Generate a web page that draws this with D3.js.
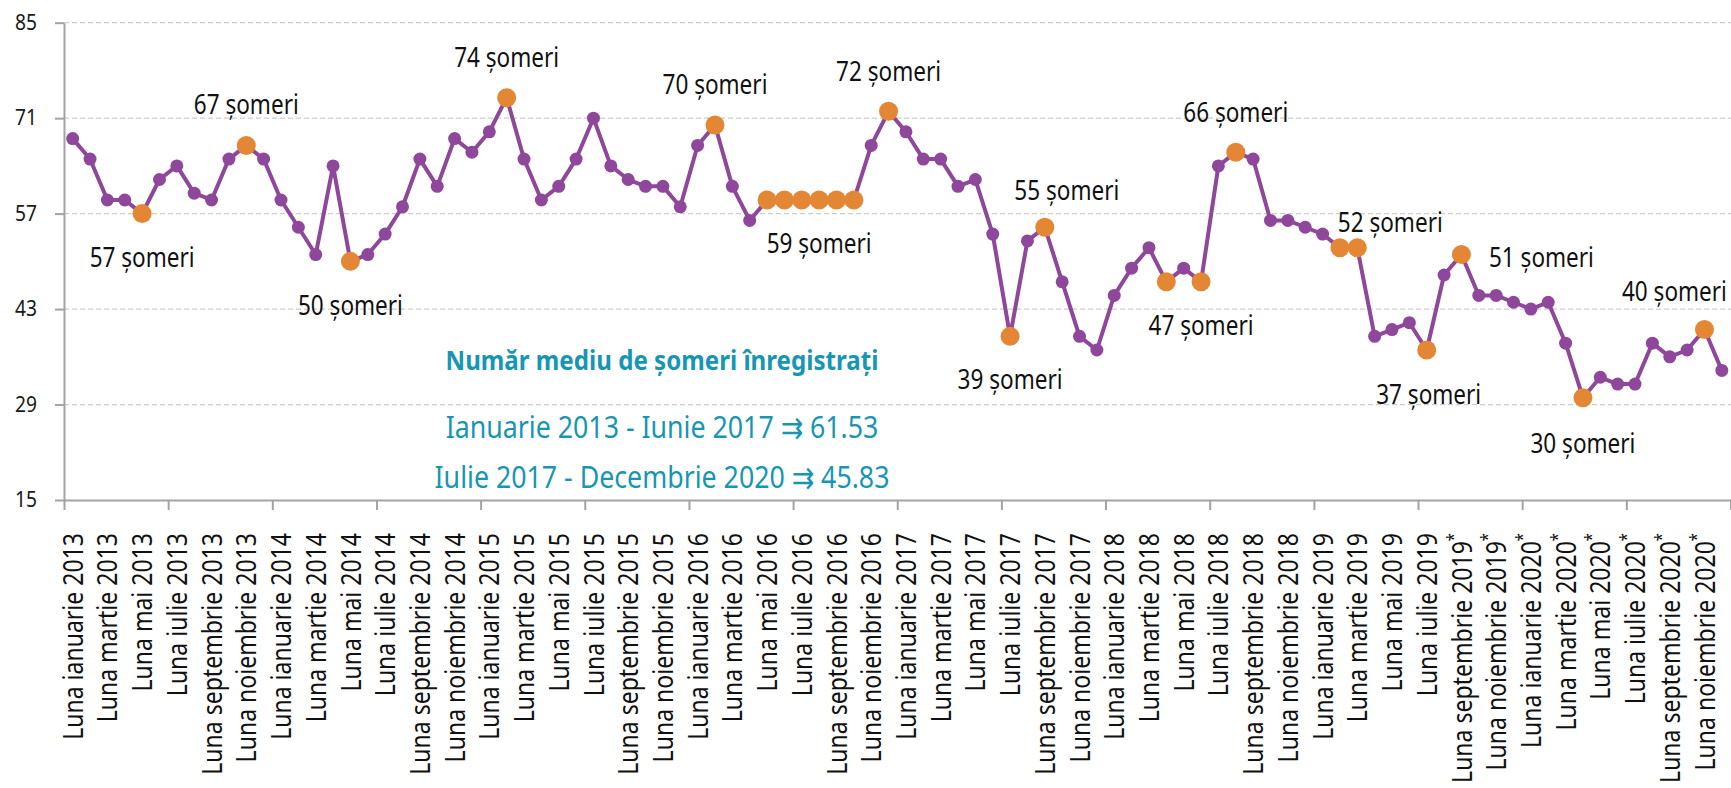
<!DOCTYPE html>
<html>
<head>
<meta charset="utf-8">
<script src="https://cdn.jsdelivr.net/npm/d3@7"></script>
<style>
  html, body { margin: 0; padding: 0; background: #fff; }
  svg text { font-family: "Noto Sans", "Open Sans", "DejaVu Sans", sans-serif; }
</style>
</head>
<body>
<svg id="chart" width="1731" height="788"></svg>
<script>
// months / years of the series (Jan 2013 - Dec 2020)
const months = ["ianuarie", "februarie", "martie", "aprilie", "mai", "iunie",
                "iulie", "august", "septembrie", "octombrie", "noiembrie", "decembrie"];
const years = [2013, 2014, 2015, 2016, 2017, 2018, 2019, 2020];
// provisional data (marked with *) starts here
const provisionalFrom = "Luna septembrie 2019";

const categories = years.flatMap(y => months.map(m => "Luna " + m + " " + y));

// number of unemployed, one value per month
const values = [
  68, 65, 59, 59, 57, 62, 64, 60, 59, 65, 67, 65,   // 2013
  59, 55, 51, 64, 50, 51, 54, 58, 65, 61, 68, 66,   // 2014
  69, 74, 65, 59, 61, 65, 71, 64, 62, 61, 61, 58,   // 2015
  67, 70, 61, 56, 59, 59, 59, 59, 59, 59, 67, 72,   // 2016
  69, 65, 65, 61, 62, 54, 39, 53, 55, 47, 39, 37,   // 2017
  45, 49, 52, 47, 49, 47, 64, 66, 65, 56, 56, 55,   // 2018
  54, 52, 52, 39, 40, 41, 37, 48, 51, 45, 45, 44,   // 2019
  43, 44, 38, 30, 33, 32, 32, 38, 36, 37, 40, 34    // 2020
];

// months drawn with an orange marker
const highlighted = [4, 10, 16, 25, 37, 40, 41, 42, 43, 44, 45, 47, 54, 56, 63, 65, 67, 73, 74, 78, 80, 87, 94];

// callouts: month index + text
const annotations = [
  { i: 4,  text: "57 șomeri" },
  { i: 10, text: "67 șomeri" },
  { i: 16, text: "50 șomeri" },
  { i: 25, text: "74 șomeri" },
  { i: 37, text: "70 șomeri" },
  { i: 43, text: "59 șomeri" },
  { i: 47, text: "72 șomeri" },
  { i: 54, text: "39 șomeri" },
  { i: 56, text: "55 șomeri" },
  { i: 65, text: "47 șomeri" },
  { i: 67, text: "66 șomeri" },
  { i: 74, text: "52 șomeri" },
  { i: 78, text: "37 șomeri" },
  { i: 80, text: "51 șomeri" },
  { i: 87, text: "30 șomeri" },
  { i: 94, text: "40 șomeri" }
];

const yTicks = [15, 29, 43, 57, 71, 85];

const averageTitle = "Număr mediu de șomeri înregistrați";
const averageLines = ["Ianuarie 2013 - Iunie 2017 ⇉ 61.53", "Iulie 2017 - Decembrie 2020 ⇉ 45.83"];

// ---- layout ----
// callout offsets from their point [dx, dy of baseline]
const calloutOffset = {
  4: [0, 53], 10: [0, -31], 16: [0, 54], 25: [0, -31], 37: [0, -31],
  43: [0, 53], 47: [0, -30], 54: [0, 53], 56: [22, -27], 65: [0, 53],
  67: [0, -30], 74: [33, -16], 78: [2, 54], 80: [80, 12], 87: [0, 55], 94: [-30, -29]
};

const purple = "#8E479A",
      orange = "#E48734",
      teal = "#1796B4",
      axisColor = "#A3A3A3";

const plot = { left: 64, right: 1730.5, top: 22.7, bottom: 500 };

const svg = d3.select("#chart");

// the original uses a narrow face; squeeze text horizontally to that width
function measure(str, size, weight) {
  const t = svg.append("text")
      .attr("font-size", size)
      .attr("font-weight", weight || "normal")
      .text(str);
  const w = t.node().getComputedTextLength();
  t.remove();
  return w;
}
const kLabel = 207 / measure("Luna ianuarie 2013", 28);
const kNote = 105 / measure("57 șomeri", 28);
const kTick = 22 / measure("85", 21);
const kTitle = 433 / measure(averageTitle, 27, "bold");
const kLine = 433 / measure(averageLines[0], 30);

const x = d3.scaleBand()
    .domain(d3.range(categories.length))
    .range([plot.left, plot.right])
    .paddingInner(0).paddingOuter(0);
const cx = i => x(i) + x.bandwidth() / 2;

const xEdge = d3.scaleLinear()
    .domain([0, categories.length])
    .range([plot.left, plot.right]);

const y = d3.scaleLinear()
    .domain([15, 85])
    .range([plot.bottom, plot.top]);

// gridlines
svg.append("g")
  .selectAll("line")
  .data(yTicks.filter(t => t > 15))
  .join("line")
    .attr("x1", plot.left).attr("x2", 1731)
    .attr("y1", d => y(d)).attr("y2", d => y(d))
    .attr("stroke", "#CDCDCD")
    .attr("stroke-width", 1.3)
    .attr("stroke-dasharray", "5,3");

// y axis
const yAxis = svg.append("g")
    .attr("transform", `translate(${plot.left},0)`)
    .call(d3.axisLeft(y).tickValues(yTicks).tickSize(9).tickSizeOuter(0).tickPadding(0));
yAxis.selectAll(".tick text")
    .attr("x", null)
    .attr("transform", `translate(-27,0) scale(${kTick},1)`)
    .attr("font-size", 21)
    .attr("fill", "#1a1a1a");

// x axis (ticks every 6 months on band edges)
const xAxis = svg.append("g")
    .attr("transform", `translate(0,${plot.bottom})`)
    .call(d3.axisBottom(xEdge)
      .tickValues(d3.range(0, categories.length + 1, 6))
      .tickSize(10).tickSizeOuter(0).tickFormat(""));

[yAxis, xAxis].forEach(g => {
  g.select(".domain").attr("stroke", axisColor).attr("stroke-width", 2);
  g.selectAll(".tick line").attr("stroke", axisColor).attr("stroke-width", 2);
});

// x labels, every second month
const startStar = categories.indexOf(provisionalFrom);
const xLabels = svg.append("g")
  .selectAll("text")
  .data(d3.range(0, categories.length, 2))
  .join("text")
    .attr("transform", i => `translate(${cx(i)},533) rotate(-90) scale(${kLabel},1)`)
    .attr("text-anchor", "end")
    .attr("dy", "0.36em")
    .attr("font-size", 28)
    .attr("fill", "#111");
xLabels.append("tspan").text(i => categories[i]);
xLabels.filter(i => i >= startStar)
  .append("tspan")
    .attr("baseline-shift", "super")
    .attr("font-size", 18)
    .text("*");

// line
svg.append("path")
    .datum(values)
    .attr("fill", "none")
    .attr("stroke", purple)
    .attr("stroke-width", 4)
    .attr("stroke-linejoin", "round")
    .attr("d", d3.line().x((d, i) => cx(i)).y(d => y(d)));

// markers
const hiSet = new Set(highlighted);
svg.append("g")
  .selectAll("circle")
  .data(values.map((v, i) => ({ v, i })).filter(d => !hiSet.has(d.i)))
  .join("circle")
    .attr("cx", d => cx(d.i))
    .attr("cy", d => y(d.v))
    .attr("r", 6.5)
    .attr("fill", purple);

svg.append("g")
  .selectAll("circle")
  .data(highlighted)
  .join("circle")
    .attr("cx", i => cx(i))
    .attr("cy", i => y(values[i]))
    .attr("r", 9.5)
    .attr("fill", orange);

// callouts
svg.append("g")
  .selectAll("text")
  .data(annotations)
  .join("text")
    .attr("transform", d => `translate(${cx(d.i) + calloutOffset[d.i][0]},${y(values[d.i]) + calloutOffset[d.i][1]}) scale(${kNote},1)`)
    .attr("text-anchor", "middle")
    .attr("font-size", 28)
    .attr("fill", "#111")
    .text(d => d.text);

// averages box
const avg = svg.append("g").attr("fill", teal).attr("text-anchor", "middle");
avg.append("text")
    .attr("transform", `translate(662,370) scale(${kTitle},1)`)
    .attr("font-size", 27)
    .attr("font-weight", "bold")
    .text(averageTitle);
avg.selectAll("text.line")
  .data(averageLines)
  .join("text")
    .attr("class", "line")
    .attr("transform", (d, k) => `translate(662,${438 + k * 50}) scale(${kLine},1)`)
    .attr("font-size", 30)
    .text(d => d);
</script>
</body>
</html>
